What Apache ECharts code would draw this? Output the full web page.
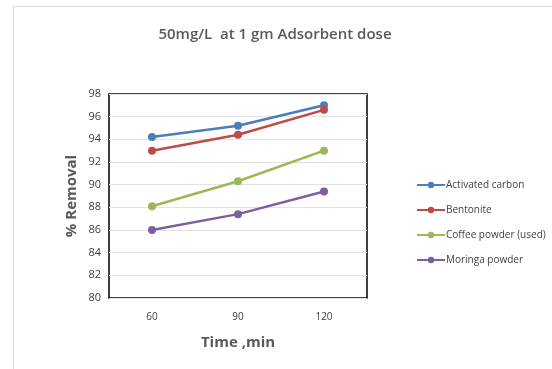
<!DOCTYPE html>
<html>
<head>
<meta charset="utf-8">
<script src="https://cdn.jsdelivr.net/npm/echarts@6/dist/echarts.min.js"></script>
<style>
  html, body { margin: 0; padding: 0; background: #fff; }
  #main { width: 552px; height: 369px; }
</style>
</head>
<body>
<div id="main"></div>
<script type="text/javascript">
	// data
	var times = ['60', '90', '120'];
	var seriesNames = ['Activated carbon', 'Bentonite', 'Coffee powder (used)', 'Moringa powder'];
	var activatedCarbon = [94.2, 95.2, 97.0];
	var bentonite = [93.0, 94.4, 96.6];
	var coffeePowder = [88.1, 90.3, 93.0];
	var moringaPowder = [86.0, 87.4, 89.4];
	var colors = ['#4a7ebb', '#be4b48', '#98b954', '#7d5fa0'];

	var allData = [activatedCarbon, bentonite, coffeePowder, moringaPowder];
	var font = 'Open Sans';

	function genSeries() {
		var temp = [];
		for (var i = 0; i < allData.length; i++) {
			temp.push({
				name: seriesNames[i],
				type: 'line',
				data: allData[i],
				symbol: 'circle',
				symbolSize: 8,
				color: colors[i],
				lineStyle: { width: 2.5, color: colors[i] },
				itemStyle: { color: colors[i] }
			});
		}
		return temp;
	}

	var myChart = echarts.init(document.getElementById('main'));
	myChart.setOption({
		animation: false,
		textStyle: { fontFamily: font },
		graphic: [{
			type: 'polyline',
			shape: { points: [[13.5, 369], [13.5, 6.5], [552, 6.5]] },
			style: { stroke: '#d9d9d9', lineWidth: 1, fill: null }
		}],
		title: {
			text: '50mg/L  at 1 gm Adsorbent dose',
			left: 270,
			textAlign: 'center',
			top: 22,
			textStyle: { fontSize: 15, fontWeight: 600, color: '#595959', fontFamily: font }
		},
		legend: {
			orient: 'vertical',
			left: 411,
			top: 175,
			itemGap: 15,
			itemWidth: 28,
			itemHeight: 8,
			data: seriesNames,
			textStyle: { fontSize: 10, color: '#404040', fontFamily: font, padding: [0, 0, 0, -4] }
		},
		grid: {
			left: 109,
			top: 94,
			width: 258,
			height: 204,
			show: true,
			borderColor: '#000',
			borderWidth: 1.5,
			containLabel: false
		},
		xAxis: {
			type: 'category',
			data: times,
			boundaryGap: true,
			name: 'Time ,min',
			nameLocation: 'middle',
			nameGap: 37,
			nameTextStyle: { fontSize: 15, fontWeight: 'bold', color: '#595959', fontFamily: font },
			axisLine: { show: false },
			axisTick: { show: false },
			axisLabel: { fontSize: 10, color: '#404040', margin: 14 }
		},
		yAxis: {
			type: 'value',
			min: 80,
			max: 98,
			interval: 2,
			name: '% Removal',
			nameLocation: 'middle',
			nameGap: 30,
			nameTextStyle: { fontSize: 15, fontWeight: 'bold', color: '#595959', fontFamily: font },
			axisLine: { show: false },
			axisTick: { show: false },
			axisLabel: { fontSize: 11, color: '#404040', margin: 8 },
			splitLine: { show: true, lineStyle: { color: '#e3e3e3', width: 1 } }
		},
		series: genSeries()
	});
</script>
</body>
</html>
